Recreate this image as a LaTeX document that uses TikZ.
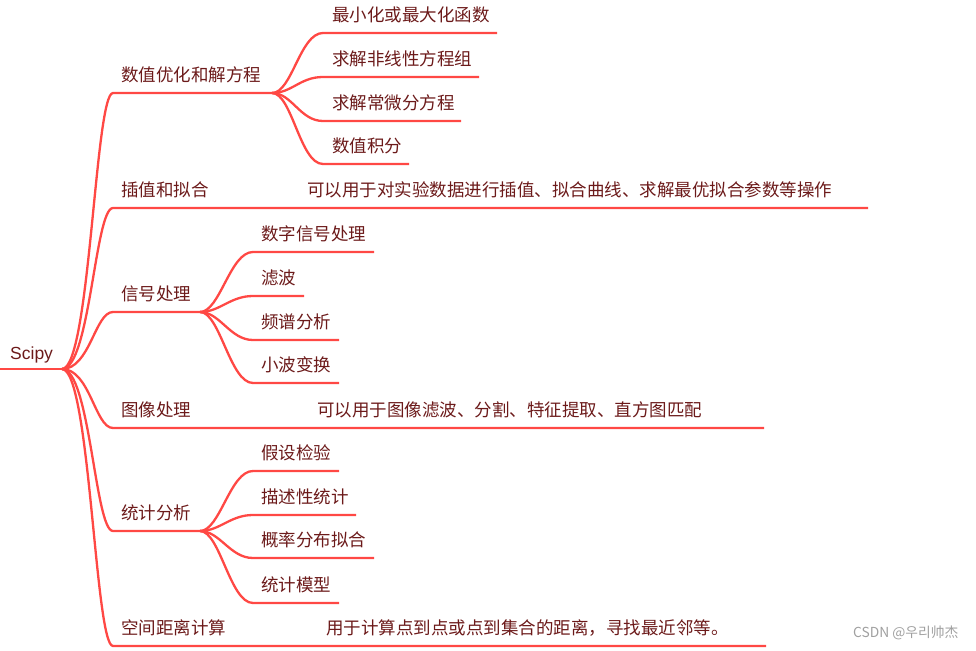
\documentclass[tikz,border=0pt]{standalone}
\usepackage{fontspec}
\setmainfont{Noto Sans CJK SC}
\newfontfamily\krfont{Noto Sans CJK KR}
\newfontfamily\latinfont{Liberation Sans}
\definecolor{lred}{RGB}{255,72,68}
\definecolor{tred}{RGB}{108,26,26}
\definecolor{wmgray}{RGB}{160,160,160}
\begin{document}
\begin{tikzpicture}[x=1pt,y=-1pt,
  branch/.style={draw=lred,line width=2.3pt,line join=round},
  lbl/.style={anchor=west,inner sep=0pt,text=tred,font=\fontsize{17.5}{20}\selectfont},
  rootlbl/.style={anchor=base west,inner sep=0pt,text=tred,font=\latinfont\fontsize{17.5}{20}\selectfont},
  wm/.style={anchor=west,inner sep=0pt,text=wmgray,font=\krfont\fontsize{13.8}{15}\selectfont}]
\useasboundingbox (0,0) rectangle (976,650);

% ---------- root ----------
\node[rootlbl] (root) at (10,359) {Scipy};
\coordinate (r0) at (0,369);
\coordinate (rj) at (62,369);
\draw[branch] (r0) -- (rj);

% ---------- level 1 coordinates ----------
\coordinate (a0) at (113,93);  \coordinate (a1) at (272,93);
\coordinate (b0) at (113,208); \coordinate (b1) at (868,208);
\coordinate (c0) at (113,312); \coordinate (c1) at (200,312);
\coordinate (d0) at (113,428); \coordinate (d1) at (764,428);
\coordinate (e0) at (113,531); \coordinate (e1) at (200,531);
\coordinate (f0) at (113,646); \coordinate (f1) at (766,646);

\foreach \s/\e in {a0/a1,b0/b1,c0/c1,d0/d1,e0/e1,f0/f1}
  \draw[branch] (rj) .. controls +(28,0) and +(-18,0) .. (\s) -- (\e);

% ---------- level 1 labels ----------
\node[lbl] (na) at (121,75)  {数值优化和解方程};
\node[lbl] (nb) at (121,190) {插值和拟合};
\node[lbl] (nc) at (121,294) {信号处理};
\node[lbl] (nd) at (121,410) {图像处理};
\node[lbl] (ne) at (121,513) {统计分析};
\node[lbl] (nf) at (121,628) {空间距离计算};

% detail texts
\node[lbl] (nbd) at (307,190) {可以用于对实验数据进行插值、拟合曲线、求解最优拟合参数等操作};
\node[lbl] (ndd) at (317,410) {可以用于图像滤波、分割、特征提取、直方图匹配};
\node[lbl] (nfd) at (326,628) {用于计算点到点或点到集合的距离，寻找最近邻等。};

% ---------- children of 数值优化和解方程 ----------
\coordinate (a10) at (323,33);  \coordinate (a11) at (497,33);
\coordinate (a20) at (323,77);  \coordinate (a21) at (479,77);
\coordinate (a30) at (323,121); \coordinate (a31) at (461,121);
\coordinate (a40) at (323,164); \coordinate (a41) at (409,164);
\foreach \s/\e in {a10/a11,a20/a21,a30/a31,a40/a41}
  \draw[branch] (a1) .. controls +(20,0) and +(-23,0) .. (\s) -- (\e);
\node[lbl] (na1) at (332,15)  {最小化或最大化函数};
\node[lbl] (na2) at (332,59)  {求解非线性方程组};
\node[lbl] (na3) at (332,103) {求解常微分方程};
\node[lbl] (na4) at (332,146) {数值积分};

% ---------- children of 信号处理 ----------
\coordinate (c10) at (253,252); \coordinate (c11) at (374,252);
\coordinate (c20) at (253,296); \coordinate (c21) at (304,296);
\coordinate (c30) at (253,340); \coordinate (c31) at (339,340);
\coordinate (c40) at (253,383); \coordinate (c41) at (339,383);
\foreach \s/\e in {c10/c11,c20/c21,c30/c31,c40/c41}
  \draw[branch] (c1) .. controls +(20,0) and +(-23,0) .. (\s) -- (\e);
\node[lbl] (nc1) at (261,234) {数字信号处理};
\node[lbl] (nc2) at (261,278) {滤波};
\node[lbl] (nc3) at (261,322) {频谱分析};
\node[lbl] (nc4) at (261,365) {小波变换};

% ---------- children of 统计分析 ----------
\coordinate (e10) at (253,471); \coordinate (e11) at (339,471);
\coordinate (e20) at (253,515); \coordinate (e21) at (356,515);
\coordinate (e30) at (253,558); \coordinate (e31) at (374,558);
\coordinate (e40) at (253,603); \coordinate (e41) at (339,603);
\foreach \s/\e in {e10/e11,e20/e21,e30/e31,e40/e41}
  \draw[branch] (e1) .. controls +(20,0) and +(-23,0) .. (\s) -- (\e);
\node[lbl] (ne1) at (261,453) {假设检验};
\node[lbl] (ne2) at (261,497) {描述性统计};
\node[lbl] (ne3) at (261,540) {概率分布拟合};
\node[lbl] (ne4) at (261,585) {统计模型};

% ---------- watermark ----------
\node[wm] (mark) at (853,633) {CSDN @우리帅杰};
\end{tikzpicture}
\end{document}
